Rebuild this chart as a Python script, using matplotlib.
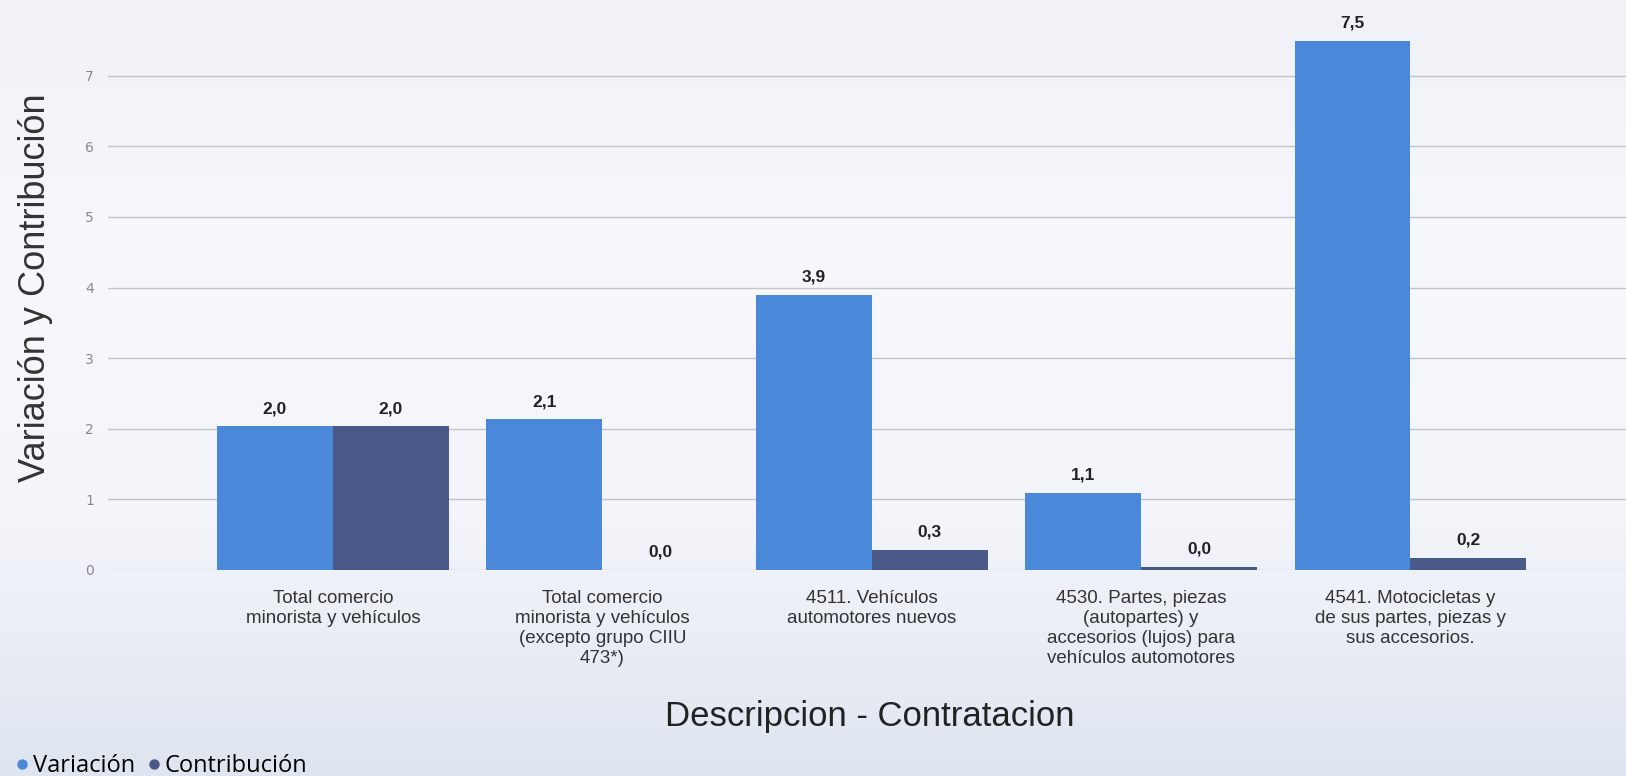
import numpy as np
import matplotlib
matplotlib.use("Agg")
import matplotlib.pyplot as plt
from matplotlib.lines import Line2D

categorias = [
    "Total comercio\nminorista y vehículos",
    "Total comercio\nminorista y vehículos\n(excepto grupo CIIU\n473*)",
    "4511. Vehículos\nautomotores nuevos",
    "4530. Partes, piezas\n(autopartes) y\naccesorios (lujos) para\nvehículos automotores",
    "4541. Motocicletas y\nde sus partes, piezas y\nsus accesorios.",
]
variacion = [2.03, 2.13, 3.9, 1.09, 7.5]
contribucion = [2.03, 0.0, 0.28, 0.04, 0.17]
yticks = [0, 1, 2, 3, 4, 5, 6, 7]

azul = "#4a89da"
azul_osc = "#4a5a88"
sans = ["Liberation Sans", "DejaVu Sans"]

fig = plt.figure(figsize=(16.26, 7.76), dpi=100)
fig.patch.set_facecolor("#eef1f8")

# fondo degradado
bg = fig.add_axes([0, 0, 1, 1], zorder=-10)
grad = np.linspace(0, 1, 200).reshape(-1, 1)
bg.imshow(grad, aspect="auto", cmap=matplotlib.colors.LinearSegmentedColormap.from_list(
    "bg", ["#dfe5f0", "#f3f5fa", "#f7f8fc", "#f0f2f8"]), extent=[0, 1, 0, 1], origin="lower")
bg.axis("off")

ax = fig.add_axes([0.0664, 0.266, 0.9336, 0.727])
ax.set_facecolor("none")

x = np.arange(len(categorias))
w = 0.43
b1 = ax.bar(x - w / 2, variacion, w, color=azul, zorder=3)
b2 = ax.bar(x + w / 2, contribucion, w, color=azul_osc, zorder=3)

for bars, vals in [(b1, variacion), (b2, contribucion)]:
    for r, v in zip(bars, vals):
        ax.text(r.get_x() + r.get_width() / 2, v + 0.14, f"{v:.1f}".replace(".", ","),
                ha="center", va="bottom", fontsize=12.5, fontweight="bold",
                color="#222222", family=sans)

ax.set_xlim(-0.835, 4.80)
ax.set_ylim(0, 8.0)
ax.set_yticks(yticks)
ax.yaxis.grid(True, color="#c4c4c8", linewidth=1.0, zorder=0)
for s in ax.spines.values():
    s.set_visible(False)
ax.tick_params(axis="y", length=0, pad=10, labelsize=10, labelcolor="#8a8a8a")
ax.tick_params(axis="x", length=0, pad=15)
ax.set_xticks(x)
ax.set_xticklabels(categorias, fontsize=13.5, color="#333333", family=sans,
                   linespacing=1.22)

ax.set_ylabel("Variación y Contribución", fontsize=26, color="#333333",
              family=sans, labelpad=23)
fig.text(0.535, 0.077, "Descripcion - Contratacion", ha="center", va="center",
         fontsize=25, color="#222222", family=sans)

handles = [
    Line2D([], [], marker="o", linestyle="none", color=azul, markersize=6.5),
    Line2D([], [], marker="o", linestyle="none", color=azul_osc, markersize=6.5),
]
fig.legend(handles, ["Variación", "Contribución"], loc="lower left",
           bbox_to_anchor=(-0.006, -0.03), ncol=2, frameon=False,
           handletextpad=0.0, columnspacing=0.35, handlelength=0.9,
           prop={"family": "Open Sans", "size": 17})

fig.savefig("out.png", dpi=100, facecolor=fig.get_facecolor())
